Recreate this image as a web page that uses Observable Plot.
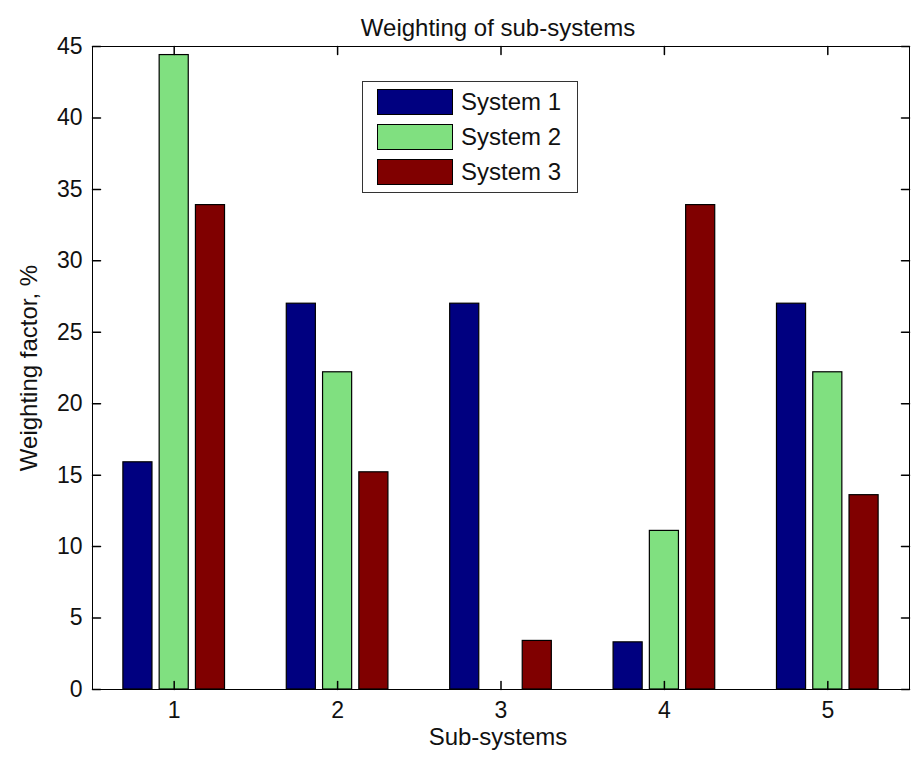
<!DOCTYPE html>
<html>
<head>
<meta charset="utf-8">
<script src="https://cdn.jsdelivr.net/npm/d3@7"></script>
<script src="https://cdn.jsdelivr.net/npm/@observablehq/plot@0.6"></script>
<style>
  body { margin: 0; background: #fff; }
  #wrap { position: relative; width: 913px; height: 758px; font-family: "Liberation Sans", Arial, sans-serif; }
  #legend { position: absolute; left: 362px; top: 81px; width: 214px; height: 110px; border: 1px solid #333; background: #fff; }
  .row { position: absolute; left: 14px; height: 26px; display: flex; align-items: center; }
  .sw { width: 74px; height: 24px; border: 1px solid #000; margin-right: 8px; }
  .lab { font-size: 24px; color: #111; }
</style>
</head>
<body>
<div id="wrap"></div>
<script>
const categories = [1, 2, 3, 4, 5];
const seriesNames = ["System 1", "System 2", "System 3"];
const system1 = [15.9, 27.0, 27.0, 3.3, 27.0];
const system2 = [44.4, 22.2, 0.0, 11.1, 22.2];
const system3 = [33.9, 15.2, 3.4, 33.9, 13.6];
const seriesColors = ["#000080", "#80e080", "#800000"];
const yTicks = [0, 5, 10, 15, 20, 25, 30, 35, 40, 45];
const xTicks = [1, 2, 3, 4, 5];
const titleText = "Weighting of sub-systems";
const xLabel = "Sub-systems";
const yLabel = "Weighting factor, %";

const seriesValues = [system1, system2, system3];
const rows = [];
seriesValues.forEach((vals, s) => {
  vals.forEach((v, i) => rows.push({cat: categories[i], series: seriesNames[s], si: s, value: v}));
});

const barW = 0.178, barOff = 0.222;
const tickShape = {draw(ctx, l) { ctx.moveTo(0, 0); ctx.lineTo(0, -l); }};
const font = "Liberation Sans, Arial, sans-serif";

const chart = Plot.plot({
  width: 913,
  height: 758,
  marginLeft: 92,
  marginRight: 4,
  marginTop: 46,
  marginBottom: 69,
  style: {fontFamily: font, fontSize: "23px", background: "white", color: "#111"},
  x: {type: "linear", domain: [0.5, 5.5]},
  y: {domain: [0, 45]},
  color: {domain: seriesNames, range: seriesColors},
  marks: [
    Plot.rectY(rows, {
      x1: d => d.cat + (d.si - 1) * barOff - barW / 2,
      x2: d => d.cat + (d.si - 1) * barOff + barW / 2,
      y1: 0, y2: "value",
      fill: "series", stroke: "black", strokeWidth: 1.2
    }),
    Plot.frame({stroke: "black", strokeWidth: 1}),
    Plot.axisX({ticks: xTicks, tickSize: 0, tickPadding: 12, label: null, fontSize: 23, tickFormat: d3.format("d")}),
    Plot.axisY({ticks: yTicks, tickSize: 0, tickPadding: 10, label: null, fontSize: 23, tickFormat: d3.format("d")}),
    Plot.vector(xTicks, {x: d => d, y: 0, length: 8, rotate: 0, anchor: "start", shape: tickShape, stroke: "black"}),
    Plot.vector(xTicks, {x: d => d, y: 45, length: 8, rotate: 180, anchor: "start", shape: tickShape, stroke: "black"}),
    Plot.vector(yTicks, {x: 0.5, y: d => d, length: 8, rotate: 90, anchor: "start", shape: tickShape, stroke: "black"}),
    Plot.vector(yTicks, {x: 5.5, y: d => d, length: 8, rotate: -90, anchor: "start", shape: tickShape, stroke: "black"}),
    Plot.text([titleText], {frameAnchor: "top", dy: -28, dx: -3, fontSize: 24, text: d => d}),
    Plot.text([xLabel], {frameAnchor: "bottom", dy: 55, dx: -3, fontSize: 24, text: d => d}),
    Plot.text([yLabel], {frameAnchor: "left", textAnchor: "middle", dx: -63, rotate: -90, fontSize: 24, text: d => d})
  ]
});

const wrap = document.getElementById("wrap");
wrap.appendChild(chart);

const legend = document.createElement("div");
legend.id = "legend";
seriesNames.forEach((name, i) => {
  const row = document.createElement("div");
  row.className = "row";
  row.style.top = (7 + i * 35) + "px";
  const sw = document.createElement("div");
  sw.className = "sw";
  sw.style.background = seriesColors[i];
  const lab = document.createElement("span");
  lab.className = "lab";
  lab.textContent = name;
  row.appendChild(sw);
  row.appendChild(lab);
  legend.appendChild(row);
});
wrap.appendChild(legend);
</script>
</body>
</html>
